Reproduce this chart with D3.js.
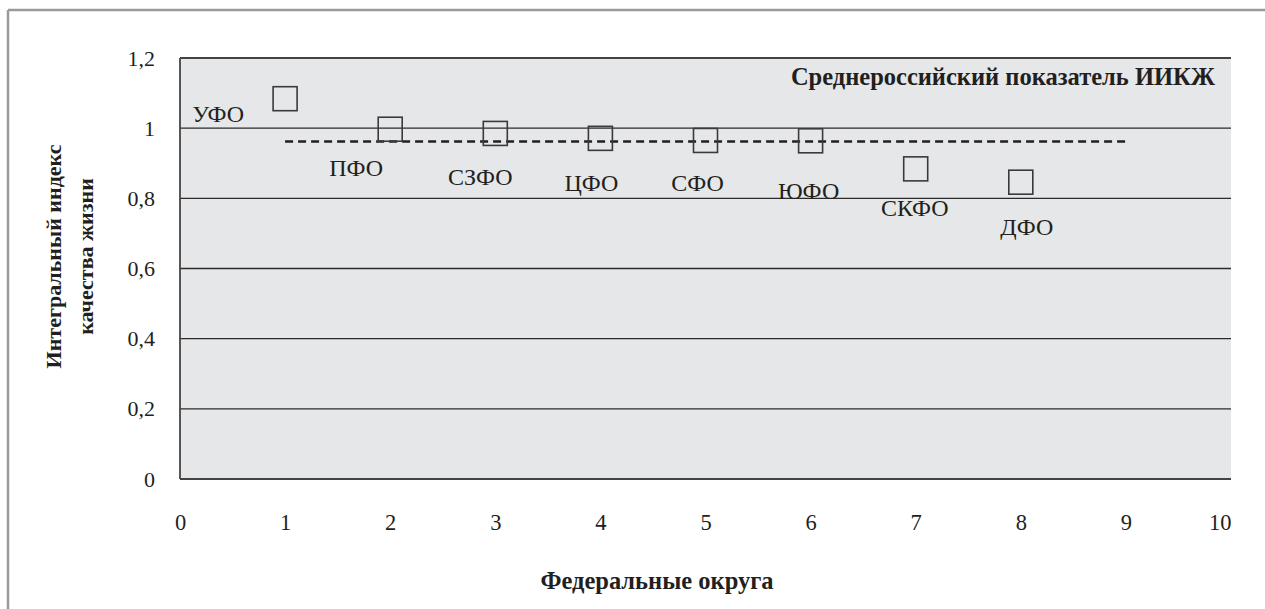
<!DOCTYPE html>
<html><head><meta charset="utf-8">
<script src="https://cdn.jsdelivr.net/npm/d3@7"></script>
</head><body style="margin:0"><svg id="c" width="1265" height="609" style="display:block"></svg>
<script>
const districts = ["УФО","ПФО","СЗФО","ЦФО","СФО","ЮФО","СКФО","ДФО"];
const positions = [1,2,3,4,5,6,7,8];
const index = [1.084,0.997,0.985,0.971,0.965,0.964,0.884,0.846];
const averageValue = 0.962;
const averageRange = [1,9];
const xTicks = [0,1,2,3,4,5,6,7,8,9,10];
const yTicks = [0,0.2,0.4,0.6,0.8,1,1.2];
const yTickLabels = ["0","0,2","0,4","0,6","0,8","1","1,2"];
const averageLabel = "Среднероссийский показатель ИИКЖ";
const xTitle = "Федеральные округа";
const yTitle = ["Интегральный индекс","качества жизни"];
// label offsets relative to marker (px)
const labelDx = [-67,-34,-15,-9,-8,-2,-1,6];
const labelDy = [23,47,52,53,51,58,47,53];

const FONT = '"Liberation Serif"';
const INK = "#231f20";
const svg = d3.select("#c");
const L=180,R=1231,T=58,B=479;
const x = d3.scaleLinear().domain([0,10]).range([L,R]);
const y = d3.scaleLinear().domain([0,1.2]).range([B,T]);

svg.append("line").attr("x1",8).attr("x2",1265).attr("y1",10).attr("y2",10).attr("stroke","#9a9a9a").attr("stroke-width",2.5);
svg.append("line").attr("x1",8).attr("x2",8).attr("y1",10).attr("y2",609).attr("stroke","#9a9a9a").attr("stroke-width",2.5);

svg.append("rect").attr("x",L).attr("y",T).attr("width",R-L).attr("height",B-T).attr("fill","#e6e7e8");
svg.append("g").selectAll("line").data(yTicks.filter(d=>d>0&&d<1.2)).join("line")
  .attr("x1",L).attr("x2",R).attr("y1",d=>y(d)).attr("y2",d=>y(d)).attr("stroke","#2b2b2b").attr("stroke-width",1.3);
svg.append("line").attr("x1",L).attr("x2",R).attr("y1",T).attr("y2",T).attr("stroke","#444").attr("stroke-width",1.8);
svg.append("line").attr("x1",L).attr("x2",R).attr("y1",B).attr("y2",B).attr("stroke","#444").attr("stroke-width",1.8);
svg.append("line").attr("x1",L).attr("x2",L).attr("y1",T).attr("y2",B).attr("stroke","#444").attr("stroke-width",1.8);

const yAxis = d3.axisLeft(y).tickValues(yTicks).tickFormat((d,i)=>yTickLabels[i]).tickSize(0).tickPadding(25);
const gy = svg.append("g").attr("transform",`translate(${L},0)`).call(yAxis);
gy.select(".domain").remove();
gy.attr("font-family",null).attr("font-size",null);
gy.selectAll("text").style("font-family",FONT).style("font-size","22px").style("fill",INK);
const xAxis = d3.axisBottom(x).tickValues(xTicks).tickFormat(d3.format("d")).tickSize(0).tickPadding(35);
const gx = svg.append("g").attr("transform",`translate(0,${B})`).call(xAxis);
gx.select(".domain").remove();
gx.attr("font-family",null).attr("font-size",null);
gx.selectAll("text").style("font-family",FONT).style("font-size","22.5px").style("fill",INK)
  .attr("text-anchor",d=>d===10?"end":"middle");

svg.append("line").attr("x1",x(averageRange[0])).attr("x2",x(averageRange[1]))
  .attr("y1",y(averageValue)).attr("y2",y(averageValue))
  .attr("stroke",INK).attr("stroke-width",2.6).attr("stroke-dasharray","8,5");

const s=24;
svg.append("g").selectAll("rect").data(index).join("rect")
  .attr("x",(d,i)=>x(positions[i])-s/2).attr("y",d=>y(d)-s/2).attr("width",s).attr("height",s)
  .attr("fill","none").attr("stroke","#3a3a3a").attr("stroke-width",1.6);

svg.append("g").selectAll("text").data(districts).join("text")
  .attr("x",(d,i)=>x(positions[i])+labelDx[i]).attr("y",(d,i)=>y(index[i])+labelDy[i])
  .attr("text-anchor","middle").style("font-family",FONT).style("font-size","24px").style("fill",INK).text(d=>d);

svg.append("text").attr("x",1215).attr("y",85).attr("text-anchor","end")
  .style("font-family",FONT).style("font-size","24.5px").style("font-weight","bold").style("fill",INK).text(averageLabel);
svg.append("text").attr("x",657).attr("y",589).attr("text-anchor","middle")
  .style("font-family",FONT).style("font-size","24.5px").style("font-weight","bold").style("fill",INK).text(xTitle);
const yt = svg.append("text").attr("transform","translate(0,256.5) rotate(-90)").attr("text-anchor","middle")
  .style("font-family",FONT).style("font-size","22px").style("font-weight","bold").style("fill",INK);
yt.append("tspan").attr("x",0).attr("y",61).text(yTitle[0]);
yt.append("tspan").attr("x",0).attr("y",93).text(yTitle[1]);
</script></body></html>
